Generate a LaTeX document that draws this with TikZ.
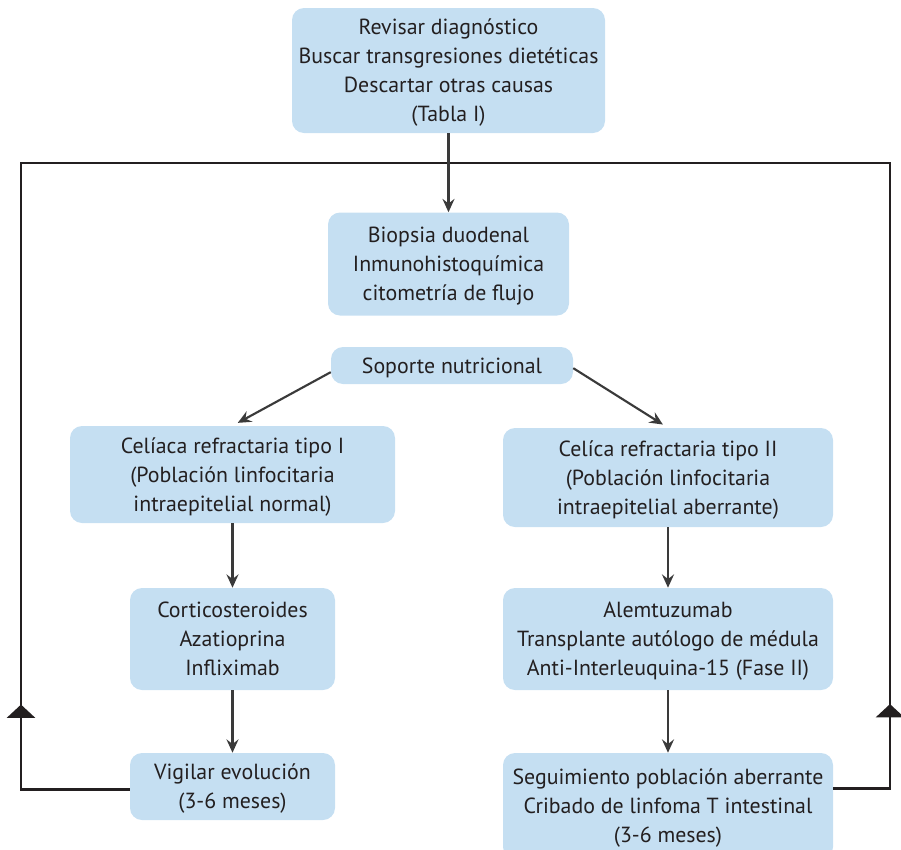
\documentclass[tikz,border=0pt]{standalone}
\usepackage{fontspec}
\setmainfont{PT Sans}
\usetikzlibrary{arrows.meta,decorations.markings}
\definecolor{azulcaja}{RGB}{197,223,242}
\definecolor{gristexto}{RGB}{35,31,32}
\definecolor{grisflecha}{RGB}{58,58,58}

\begin{document}
\begin{tikzpicture}[
                x=0.75pt, y=-0.75pt,
                caja/.style={fill=azulcaja, rounded corners=9pt, align=center, inner sep=0pt, text=gristexto, font=\fontsize{16.4}{21.75}\selectfont, text depth=-3pt},
                flecha/.style={draw=grisflecha, line width=1.6pt, -{Stealth[length=10pt, width=9pt, inset=3.5pt]}},
                retorno/.style={draw=gristexto, line width=2.2pt},
                punta/.style={postaction={decorate}, decoration={markings, mark=at position #1 with {\arrow{Triangle[length=10pt, width=21pt]}}}},
            ]
            \useasboundingbox (0,0) rectangle (901,850);

            \node[caja, minimum width=234.75pt, minimum height=93.75pt] (revisar) at (448.5, 70.5) {Revisar diagnóstico\\Buscar transgresiones dietéticas\\Descartar otras causas\\(Tabla I)};
            \node[caja, minimum width=180.75pt, minimum height=77.25pt] (biopsia) at (448.5, 264) {Biopsia duodenal\\Inmunohistoquímica\\citometría de flujo};
            \node[caja, minimum width=181.5pt, minimum height=27.75pt] (soporte) at (452, 365.5) {Soporte nutricional};
            \node[caja, minimum width=243.75pt, minimum height=72.75pt] (tipoI) at (232.5, 474.5) {Celíaca refractaria tipo I\\(Población linfocitaria\\intraepitelial normal)};
            \node[caja, minimum width=247.5pt, minimum height=74.25pt] (tipoII) at (668, 477.5) {Celíca refractaria tipo II\\(Población linfocitaria\\intraepitelial aberrante)};
            \node[caja, minimum width=153.75pt, minimum height=76.5pt] (cortico) at (232.5, 639) {Corticosteroides\\Azatioprina\\Infliximab};
            \node[caja, minimum width=247.5pt, minimum height=76.5pt] (alemtu) at (668, 639) {Alemtuzumab\\Transplante autólogo de médula\\Anti-Interleuquina-15 (Fase II)};
            \node[caja, minimum width=153.75pt, minimum height=50.25pt] (vigilar) at (232.5, 786.5) {Vigilar evolución\\(3-6 meses)};
            \node[caja, minimum width=247.5pt, minimum height=79.5pt] (seguim) at (668, 806) {Seguimiento población aberrante\\Cribado de linfoma T intestinal\\(3-6 meses)};

            \coordinate (cruce) at (448.5, 163);
            \coordinate (izq) at (21, 163);
            \coordinate (der) at (890, 163);

            \draw[retorno, punta=145pt] ([yshift=-2pt]vigilar.west) -| (izq) -- (cruce);
            \draw[retorno, punta=106pt] ([yshift=13pt]seguim.east) -| (der) -- (cruce);

            \draw[flecha] (revisar) -- (biopsia);
            \draw[flecha, shorten >=4.5pt] ([yshift=-5pt]soporte.west) -- (tipoI.north);
            \draw[flecha, shorten >=4.5pt] ([yshift=-2pt]soporte.east) -- (tipoII.north);
            \draw[flecha] (tipoI) -- (cortico);
            \draw[flecha] (cortico) -- (vigilar);
            \draw[flecha] (tipoII) -- (alemtu);
            \draw[flecha] (alemtu) -- (seguim);
        \end{tikzpicture}
\end{document}
